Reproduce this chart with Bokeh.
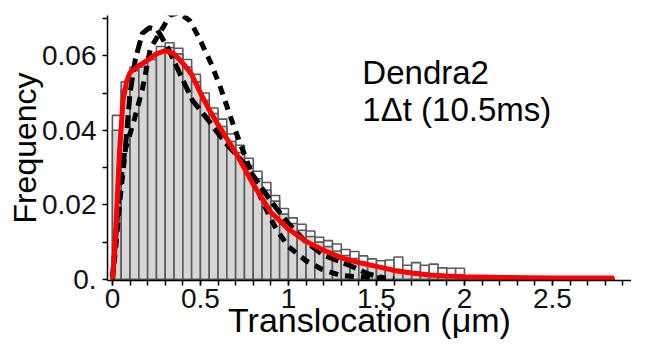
from bokeh.plotting import figure
from bokeh.models import FixedTicker, Range1d, Label
from bokeh.embed import file_html
from bokeh.resources import INLINE

# ---- data ----
bin_width = 0.05
n_bins = 57
bin_left = [round(i * bin_width, 3) for i in range(n_bins)]
bin_right = [round(b + bin_width, 3) for b in bin_left]

# open (outline) histogram
open_freq = [0.044, 0.053, 0.057, 0.058, 0.060, 0.0625, 0.0635, 0.062, 0.059, 0.055,
             0.050, 0.046, 0.043, 0.039, 0.036, 0.0325, 0.029, 0.026, 0.0225, 0.019,
             0.0165, 0.0148, 0.013, 0.0113, 0.0104, 0.0095, 0.008, 0.0075, 0.0063, 0.0055,
             0.005, 0.0052, 0.006, 0.0038, 0.0045, 0.0038, 0.0041, 0.0031, 0.003, 0.003,
             0.0007, 0.0005, 0.0006, 0.0005, 0.0006, 0.0004, 0.0005, 0.0005, 0.0004, 0.0005,
             0.0004, 0.0004, 0.0005, 0.0004, 0.0004, 0.0004, 0.0004]
# filled (grey) histogram
grey_freq = [0.040, 0.051, 0.056, 0.057, 0.059, 0.061, 0.0622, 0.0605, 0.057, 0.053,
             0.048, 0.0445, 0.041, 0.037, 0.034, 0.0305, 0.027, 0.024, 0.021, 0.0175,
             0.015, 0.0132, 0.0115, 0.010, 0.0088, 0.0076, 0.0064, 0.0056, 0.0046, 0.0039,
             0.0033, 0.0029, 0.0026, 0.0021, 0.0019, 0.0016, 0.0014, 0.0012, 0.001, 0.0009,
             0.0005, 0.0005, 0.0005, 0.0005, 0.0004, 0.0004, 0.0004, 0.0004, 0.0004, 0.0004,
             0.0004, 0.0004, 0.0004, 0.0004, 0.0004, 0.0004, 0.0004]

# red fit
red_x = [0, 0.01, 0.02, 0.03, 0.04, 0.06, 0.08, 0.1, 0.15, 0.2, 0.25, 0.3, 0.35, 0.4,
         0.45, 0.5, 0.55, 0.6, 0.7, 0.8, 0.9, 1.0, 1.1, 1.2, 1.3, 1.4, 1.5, 1.6, 1.7,
         1.8, 1.9, 2.0, 2.2, 2.5, 2.85]
red_y = [0, 0.006, 0.014, 0.024, 0.034, 0.048, 0.053, 0.0555, 0.0573, 0.0588, 0.0605,
         0.0614, 0.0605, 0.058, 0.055, 0.050, 0.0455, 0.0415, 0.034, 0.0255, 0.018,
         0.0135, 0.0102, 0.0078, 0.0058, 0.0045, 0.0035, 0.0024, 0.0017, 0.0012, 0.0009,
         0.0007, 0.0005, 0.0004, 0.0004]

# dashed model A (narrow peak)
a_x = [0, 0.02, 0.04, 0.075, 0.1, 0.13, 0.17, 0.21, 0.255, 0.32, 0.38, 0.455, 0.54,
       0.64, 0.76, 0.9, 1.0, 1.1, 1.2, 1.35, 1.45, 1.55]
a_y = [0, 0.012, 0.024, 0.036, 0.050, 0.059, 0.066, 0.0675, 0.067, 0.0617, 0.0555,
       0.048, 0.043, 0.0367, 0.0306, 0.021, 0.015, 0.010, 0.0065, 0.0037, 0.0015, 0.0003]

# dashed model B (broad peak)
b_x = [0, 0.02, 0.04, 0.074, 0.125, 0.17, 0.216, 0.267, 0.33, 0.38, 0.44, 0.49, 0.56,
       0.61, 0.69, 0.77, 0.85, 0.93, 1.0, 1.1, 1.19, 1.3, 1.48, 1.6]
b_y = [0, 0.009, 0.02, 0.035, 0.043, 0.051, 0.062, 0.066, 0.071, 0.0715, 0.0694, 0.065,
       0.058, 0.052, 0.041, 0.031, 0.021, 0.0135, 0.0088, 0.005, 0.0027, 0.001, 0.0005,
       0.0002]

y_ticks = [0, 0.02, 0.04, 0.06]
y_tick_labels = ["0.", "0.02", "0.04", "0.06"]
y_minor = [0.01, 0.03, 0.05, 0.07]
x_ticks = [0, 0.5, 1, 1.5, 2, 2.5]
x_tick_labels = ["0", "0.5", "1", "1.5", "2", "2.5"]
x_minor = [round(0.1 * i, 1) for i in range(30)]

FONT = "Liberation Sans"

p = figure(width=631, height=347, output_backend="svg", toolbar_location=None,
           x_range=Range1d(-0.028, 2.949), y_range=Range1d(-0.0003, 0.0708),
           min_border_left=107, min_border_right=0, min_border_top=15,
           min_border_bottom=67)
p.outline_line_color = None
p.xgrid.visible = False
p.ygrid.visible = False
p.background_fill_color = "white"

p.quad(left=bin_left, right=bin_right, bottom=0, top=open_freq,
       fill_color="white", line_color="#5a5a5a", line_width=1.6)
p.quad(left=bin_left, right=bin_right, bottom=0, top=grey_freq,
       fill_color="#d6d6d6", line_color="#5a5a5a", line_width=1.6)

p.line(b_x, b_y, line_color="black", line_width=5, line_dash="9 7")
p.line(a_x, a_y, line_color="black", line_width=5, line_dash="13 6")
p.line(red_x, red_y, line_color="red", line_width=5)

# axes
for ax in (p.xaxis[0], p.yaxis[0]):
    ax.axis_line_color = "black"
    ax.axis_line_width = 1.5
    ax.major_tick_line_color = "black"
    ax.minor_tick_line_color = "black"
    ax.major_tick_line_width = 1.5
    ax.minor_tick_line_width = 1.5
    ax.major_tick_out = 5
    ax.major_tick_in = 0
    ax.minor_tick_out = 5
    ax.minor_tick_in = 0
    ax.major_label_text_font = FONT
    ax.major_label_text_font_size = "28px"
    ax.major_label_text_color = "#111111"
    ax.axis_label_text_font = FONT
    ax.axis_label_text_font_style = "normal"
    ax.axis_label_text_color = "black"

p.yaxis.ticker = FixedTicker(ticks=y_ticks, minor_ticks=y_minor)
p.yaxis.major_label_overrides = {t: l for t, l in zip(y_ticks, y_tick_labels)}
p.yaxis.major_label_standoff = 6
p.yaxis.axis_label = "Frequency"
p.yaxis.axis_label_text_font_size = "32px"
p.yaxis.axis_label_standoff = -4

p.xaxis.ticker = FixedTicker(ticks=x_ticks, minor_ticks=x_minor)
p.xaxis.major_label_overrides = {t: l for t, l in zip(x_ticks, x_tick_labels)}
p.xaxis.major_label_standoff = 3
p.xaxis.axis_label = "Translocation (μm)"
p.xaxis.axis_label_text_font_size = "34px"
p.xaxis.axis_label_standoff = -10

p.add_layout(Label(x=1.42, y=0.0555, text="Dendra2", text_font=FONT,
                   text_font_size="33px", text_color="black",
                   text_baseline="alphabetic"))
p.add_layout(Label(x=1.42, y=0.0456, text="1Δt (10.5ms)", text_font=FONT,
                   text_font_size="33px", text_color="black",
                   text_baseline="alphabetic"))

open("out.html", "w").write(file_html(p, INLINE))
